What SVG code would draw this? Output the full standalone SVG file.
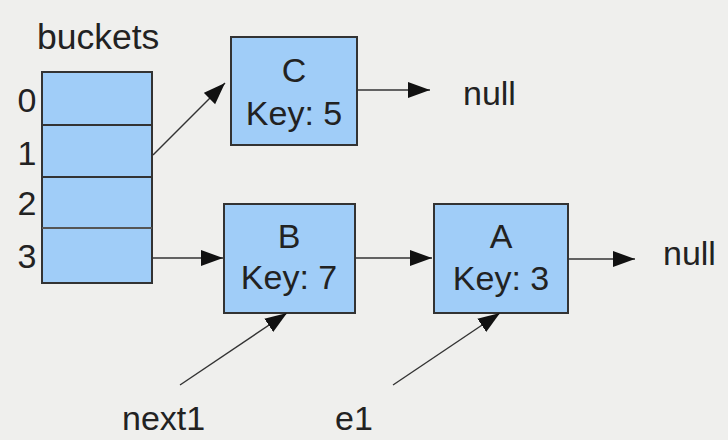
<svg xmlns="http://www.w3.org/2000/svg" width="728" height="440" viewBox="0 0 728 440">
<style>
.box{fill:#a0cdf8;stroke:#333;stroke-width:2}
.t{font-family:"Liberation Sans",Arial,sans-serif;font-size:34px;fill:#222}
.m{text-anchor:middle}
.c{stroke:#333;stroke-width:1.4;fill:none}
</style>
<defs>
<marker id="ah" markerUnits="userSpaceOnUse" markerWidth="24" markerHeight="18" refX="22" refY="8" orient="auto" viewBox="0 0 24 18">
<path d="M0,0 L22,8 L0,16 z" fill="#111"/>
</marker>
</defs>
<rect width="728" height="440" fill="#efefed"/>
<g id="buckets">
<text class="t" x="37" y="49" style="font-size:35.5px">buckets</text>
<rect class="box" x="42" y="72" width="110" height="211"/>
<line x1="42" y1="125" x2="152" y2="125" stroke="#333" stroke-width="2"/>
<line x1="42" y1="177" x2="152" y2="177" stroke="#333" stroke-width="2"/>
<line x1="42" y1="228" x2="152" y2="228" stroke="#555" stroke-width="2"/>
<text class="t m" x="27" y="112">0</text>
<text class="t m" x="27" y="165">1</text>
<text class="t m" x="27" y="215">2</text>
<text class="t m" x="27" y="268">3</text>
</g>
<g id="nodeC">
<rect class="box" x="231" y="37" width="126" height="108"/>
<text class="t m" x="294" y="82">C</text>
<text class="t m" x="294" y="125">Key: 5</text>
</g>
<g id="nodeB">
<rect class="box" x="224" y="204" width="131" height="109"/>
<text class="t m" x="289" y="248">B</text>
<text class="t m" x="289" y="289">Key: 7</text>
</g>
<g id="nodeA">
<rect class="box" x="434" y="204" width="134" height="109"/>
<text class="t m" x="501" y="248">A</text>
<text class="t m" x="501" y="290">Key: 3</text>
</g>
<g id="null1"><text class="t" x="463" y="105">null</text></g>
<g id="null2"><text class="t" x="663" y="265">null</text></g>
<g id="next1"><text class="t" x="122" y="430">next1</text></g>
<g id="e1"><text class="t" x="335" y="430">e1</text></g>
<g id="connectors">
<line class="c" x1="153" y1="155" x2="225" y2="83" marker-end="url(#ah)"/>
<line class="c" x1="152" y1="258" x2="223" y2="258" marker-end="url(#ah)"/>
<line class="c" x1="357" y1="90" x2="430" y2="90" marker-end="url(#ah)"/>
<line class="c" x1="355" y1="258" x2="432" y2="258" marker-end="url(#ah)"/>
<line class="c" x1="568" y1="259" x2="635" y2="259" marker-end="url(#ah)"/>
<line class="c" x1="180" y1="385" x2="287" y2="313" marker-end="url(#ah)"/>
<line class="c" x1="393" y1="385" x2="500" y2="313" marker-end="url(#ah)"/>
</g>
</svg>
